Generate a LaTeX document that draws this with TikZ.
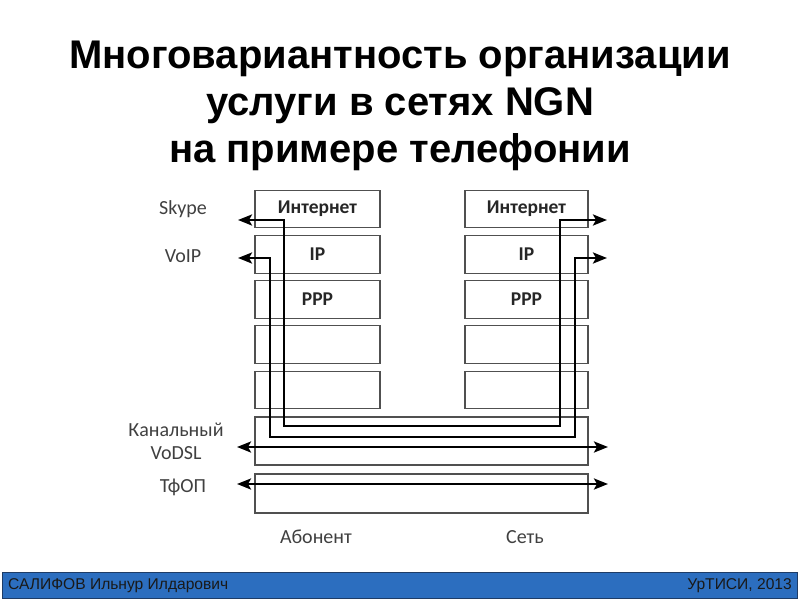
\documentclass[tikz,border=0pt]{standalone}
\usepackage{fontspec}
\setmainfont{Carlito}
\newfontfamily\titlefont{Liberation Sans}
\usetikzlibrary{arrows.meta}
\definecolor{barblue}{HTML}{2C6EBF}
\definecolor{barborder}{HTML}{1E3C66}
\definecolor{boxgray}{HTML}{505050}
\tikzset{
  layerbox/.style={draw=boxgray, line width=1.1pt, inner sep=0pt, outer sep=0pt, text=black!85, font=\fontsize{19.5}{22}\selectfont\bfseries},
  flow/.style={line width=2.5pt, {Stealth[length=14pt,width=11pt,inset=3pt]}-{Stealth[length=14pt,width=11pt,inset=3pt]}},
  sidelabel/.style={font=\fontsize{20}{23}\selectfont, text=black!75, align=center, inner sep=0pt},
  titleline/.style={font=\titlefont\bfseries\fontsize{40}{46}\selectfont, anchor=base, inner sep=0pt},
  footertext/.style={font=\titlefont\fontsize{15.6}{18}\selectfont, text=black!90, inner sep=0pt}
}
\begin{document}
\begin{tikzpicture}[x=1pt,y=-1pt]
\useasboundingbox (0,0) rectangle (800,600);
% title
\node[titleline] (t1) at (400,68) {Многовариантность организации};
\node[titleline] (t2) at (400,115) {услуги в сетях NGN};
\node[titleline] (t3) at (400,162) {на примере телефонии};
% left stack
\node[layerbox, minimum width=125pt, minimum height=37.5pt] (L1) at (317.5,209) {Интернет};
\node[layerbox, minimum width=125pt, minimum height=37.5pt] (L2) at (317.5,254.5) {IP};
\node[layerbox, minimum width=125pt, minimum height=37.5pt] (L3) at (317.5,299.5) {PPP};
\node[layerbox, minimum width=125pt, minimum height=37.5pt] (L4) at (317.5,344.5) {};
\node[layerbox, minimum width=125pt, minimum height=37.5pt] (L5) at (317.5,390) {};
% right stack
\node[layerbox, minimum width=123pt, minimum height=37.5pt] (R1) at (526.5,209) {Интернет};
\node[layerbox, minimum width=123pt, minimum height=37.5pt] (R2) at (526.5,254.5) {IP};
\node[layerbox, minimum width=123pt, minimum height=37.5pt] (R3) at (526.5,299.5) {PPP};
\node[layerbox, minimum width=123pt, minimum height=37.5pt] (R4) at (526.5,344.5) {};
\node[layerbox, minimum width=123pt, minimum height=37.5pt] (R5) at (526.5,390) {};
% wide boxes
\node[layerbox, minimum width=333pt, minimum height=48pt] (K) at (421.5,441) {};
\node[layerbox, minimum width=333pt, minimum height=39pt] (T) at (421.5,493.5) {};
% side labels
\node[sidelabel] (skype) at (183,209) {Skype};
\node[sidelabel] (voip) at (183,256) {VoIP};
\node[sidelabel] (kan) at (176,441) {Канальный\\VoDSL};
\node[sidelabel] (tfop) at (183,487) {ТфОП};
\node[sidelabel] (ab) at (316,537) {Абонент};
\node[sidelabel] (set) at (525,537) {Сеть};
% arrow end points
\coordinate (skL) at (238,220);
\coordinate (skR) at (607,220);
\coordinate (vpL) at (238,258);
\coordinate (vpR) at (607,258);
\coordinate (vdL) at (237,447);
\coordinate (vdR) at (608,447);
\coordinate (tfL) at (237,484);
\coordinate (tfR) at (608,484);
% flows
\draw[flow] (skL) -- (284,220) -- (284,426) -- (560,426) -- (560,220) -- (skR);
\draw[flow] (vpL) -- (270,258) -- (270,437) -- (575,437) -- (575,258) -- (vpR);
\draw[flow] (vdL) -- (vdR);
\draw[flow] (tfL) -- (tfR);
% footer
\path[fill=barblue, draw=barborder, line width=1pt] (2,572) rectangle (797,598);
\node[footertext, anchor=west] (fl) at (8,585.5) {САЛИФОВ Ильнур Илдарович};
\node[footertext, anchor=east] (fr) at (792,585.5) {УрТИСИ, 2013};
\end{tikzpicture}
\end{document}
